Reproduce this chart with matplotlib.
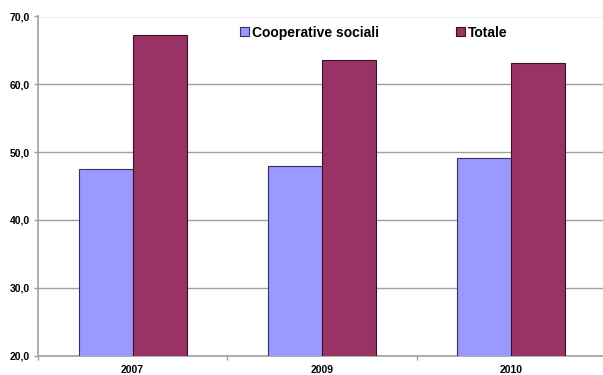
import matplotlib
matplotlib.use("Agg")
import matplotlib.pyplot as plt
import numpy as np

plt.rcParams['font.family'] = ['Liberation Sans', 'DejaVu Sans']

years = ["2007", "2009", "2010"]
coop = [47.5, 47.9, 49.2]
totale = [67.3, 63.6, 63.1]
series_names = ["Cooperative sociali", "Totale"]
yticks = [20, 30, 40, 50, 60, 70]

fig = plt.figure(figsize=(6.03, 3.75), dpi=100)
ax = fig.add_axes([38/603, 1-355.5/375, (606-38)/603, (355.5-16.5)/375])

x = np.arange(len(years))
w = 0.285
ax.bar(x - w/2, coop, w, color="#9999FF", edgecolor="#333366", linewidth=0.8,
       label=series_names[0], zorder=3)
ax.bar(x + w/2, totale, w, color="#993366", edgecolor="#3a1028", linewidth=0.8,
       label=series_names[1], zorder=3)

ax.set_xlim(-0.5, len(years) - 0.5)
ax.set_ylim(20, 70)
ax.set_yticks(yticks)
ax.set_yticklabels([f"{v:.1f}".replace(".", ",") for v in yticks],
                   fontsize=7.5, fontweight="bold")
ax.yaxis.grid(True, color="#a0a0a0", linewidth=1.0, zorder=0)
ax.set_axisbelow(True)

ax.set_xticks(x)
ax.set_xticklabels(years, fontsize=7.5, fontweight="bold")
ax.tick_params(axis="x", which="major", length=0, pad=7)
ax.set_xticks(np.arange(-0.5, len(years), 1.0), minor=True)
ax.tick_params(axis="x", which="minor", length=3, color="#a0a0a0", width=1)
ax.tick_params(axis="y", length=3, color="#a0a0a0", width=1, pad=3)

for s in ["top", "right"]:
    ax.spines[s].set_visible(False)
for s in ["left", "bottom"]:
    ax.spines[s].set_color("#a0a0a0")
    ax.spines[s].set_linewidth(1.2)

leg = ax.legend(loc="upper left", bbox_to_anchor=(0.356, 0.973), ncol=2,
                frameon=False, prop={"size": 10, "weight": "bold"},
                borderaxespad=0, borderpad=0,
                handlelength=0.65, handleheight=0.65, handletextpad=0.2,
                columnspacing=5.55)

fig.savefig("out.png", dpi=100)
